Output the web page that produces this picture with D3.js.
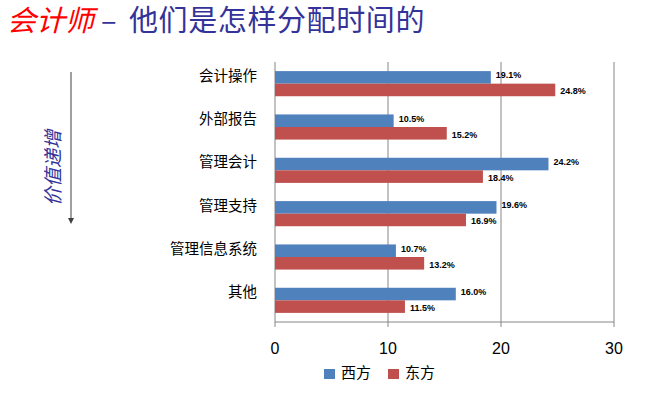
<!DOCTYPE html>
<html>
<head>
  <meta charset="utf-8">
  <title>会计师</title>
  <script src="https://d3js.org/d3.v7.min.js"></script>
  <style>
    body { margin: 0; background: #fff; }
  </style>
</head>
<body>
  <script>
    var categories = ["会计操作", "外部报告", "管理会计", "管理支持", "管理信息系统", "其他"];
    var seriesNames = ["西方", "东方"];
    var west = [19.1, 10.5, 24.2, 19.6, 10.7, 16.0];
    var east = [24.8, 15.2, 18.4, 16.9, 13.2, 11.5];
    var xTicks = [0, 10, 20, 30];
    var colors = ["#4F81BD", "#C0504D"];

    var w = 660, h = 399;
    var svg = d3.select("body").append("svg").attr("width", w).attr("height", h);

    // title
    var title = svg.append("text")
      .attr("y", 31)
      .attr("font-family", "Noto Sans CJK SC")
      .attr("font-size", "29px");
    title.append("tspan").attr("x", 7).attr("fill", "#FF0000").attr("font-style", "italic").text("会计师");
    title.append("tspan").attr("x", 101).attr("fill", "#333399").text("–");
    title.append("tspan").attr("x", 129).attr("fill", "#333399").attr("letter-spacing", "0.6px").text("他们是怎样分配时间的");

    var x = d3.scaleLinear().domain([0, 30]).range([275, 614]);
    var y = d3.scaleBand().domain(categories).range([62, 322]).paddingInner(0.42).paddingOuter(0.21);
    var sub = d3.scaleBand().domain([0, 1]).range([0, y.bandwidth()]);

    // gridlines
    svg.selectAll("line.grid").data(xTicks).enter().append("line")
      .attr("class", "grid")
      .attr("x1", function(d) { return x(d); })
      .attr("x2", function(d) { return x(d); })
      .attr("y1", 62).attr("y2", 327)
      .attr("stroke", "#868686").attr("stroke-width", 1);
    // bottom axis
    svg.append("line")
      .attr("x1", x(0)).attr("x2", x(30)).attr("y1", 322).attr("y2", 322)
      .attr("stroke", "#868686");

    svg.selectAll("text.tick").data(xTicks).enter().append("text")
      .attr("class", "tick")
      .attr("x", function(d) { return x(d); })
      .attr("y", 354)
      .attr("text-anchor", "middle")
      .attr("font-family", "Liberation Sans, Arial, sans-serif")
      .attr("font-size", "16px")
      .attr("fill", "#000")
      .text(function(d) { return d; });

    // category labels
    svg.selectAll("text.cat").data(categories).enter().append("text")
      .attr("class", "cat")
      .attr("x", 257)
      .attr("y", function(d) { return y(d) + y.bandwidth() / 2 - 7; })
      .attr("dominant-baseline", "middle")
      .attr("text-anchor", "end")
      .attr("font-family", "Noto Sans CJK SC")
      .attr("font-size", "14.5px")
      .attr("fill", "#000")
      .text(function(d) { return d; });

    var series = [west, east];
    series.forEach(function(vals, s) {
      svg.selectAll("rect.s" + s).data(vals).enter().append("rect")
        .attr("class", "s" + s)
        .attr("x", x(0))
        .attr("y", function(d, i) { return y(categories[i]) + sub(s); })
        .attr("width", function(d) { return x(d) - x(0); })
        .attr("height", sub.bandwidth())
        .attr("fill", colors[s]);

      svg.selectAll("text.v" + s).data(vals).enter().append("text")
        .attr("class", "v" + s)
        .attr("x", function(d) { return x(d) + 5; })
        .attr("y", function(d, i) { return y(categories[i]) + sub(s) + sub.bandwidth() / 2 + (s === 0 ? -1.5 : 2); })
        .attr("dominant-baseline", "middle")
        .attr("font-family", "Liberation Sans, Arial, sans-serif")
        .attr("font-size", "9px")
        .attr("font-weight", "bold")
        .attr("fill", "#000")
        .text(function(d) { return d.toFixed(1) + "%"; });
    });

    // legend
    var lx = [324, 388];
    seriesNames.forEach(function(n, i) {
      svg.append("rect").attr("x", lx[i]).attr("y", 369).attr("width", 11).attr("height", 10).attr("fill", colors[i]);
      svg.append("text").attr("x", lx[i] + 17).attr("y", 374)
        .attr("dominant-baseline", "middle")
        .attr("font-family", "Noto Sans CJK SC")
        .attr("font-size", "15px")
        .attr("fill", "#000")
        .text(n);
    });

    // value arrow
    var defs = svg.append("defs");
    defs.append("marker").attr("id", "arr").attr("viewBox", "0 0 10 10")
      .attr("refX", 5).attr("refY", 5).attr("markerWidth", 4).attr("markerHeight", 4)
      .attr("orient", "auto")
      .append("path").attr("d", "M0,0 L10,5 L0,10 z").attr("fill", "#404040");
    svg.append("line").attr("x1", 71).attr("x2", 71).attr("y1", 72).attr("y2", 221)
      .attr("stroke", "#808080").attr("stroke-width", 1.5)
      .attr("marker-end", "url(#arr)");
    svg.append("text")
      .attr("transform", "translate(55,168) rotate(-90)")
      .attr("text-anchor", "middle")
      .attr("dominant-baseline", "middle")
      .attr("font-family", "Noto Sans CJK SC")
      .attr("font-size", "19px")
      .attr("font-style", "italic")
      .attr("fill", "#333399")
      .text("价值递增");
  </script>
</body>
</html>
